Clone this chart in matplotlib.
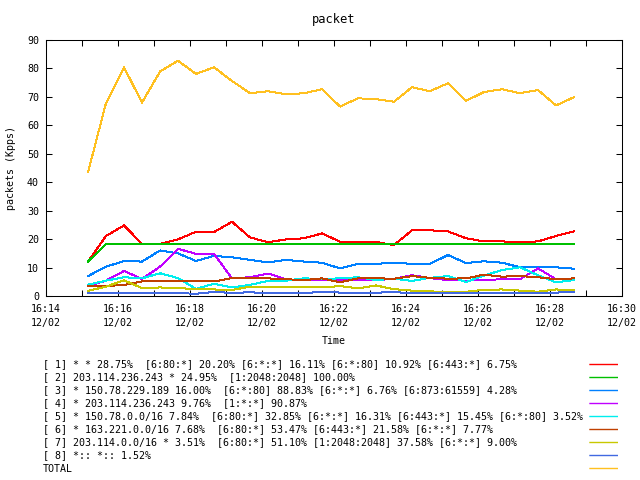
import matplotlib
matplotlib.use('Agg')
import matplotlib.pyplot as plt
import matplotlib.dates as mdates
import pandas as pd

# sample times (12/02, every 30 s)
times = ['16:15:10', '16:15:40', '16:16:10', '16:16:40', '16:17:10', '16:17:40', '16:18:10',
         '16:18:40', '16:19:10', '16:19:40', '16:20:10', '16:20:40', '16:21:10', '16:21:40',
         '16:22:10', '16:22:40', '16:23:10', '16:23:40', '16:24:10', '16:24:40', '16:25:10',
         '16:25:40', '16:26:10', '16:26:40', '16:27:10', '16:27:40', '16:28:10', '16:28:40']

s1 = [12.1, 21.1, 24.8, 18.3, 18.3, 19.9, 22.6, 22.5, 26.1, 20.6, 18.9, 19.9, 20.3, 22.0,
      19.1, 19.1, 19.0, 17.9, 23.1, 23.1, 22.7, 20.3, 19.2, 19.2, 18.9, 19.2, 21.1, 22.7]
s2 = [12.1, 18.2, 18.2, 18.2, 18.2, 18.2, 18.2, 18.2, 18.2, 18.2, 18.2, 18.2, 18.2, 18.2,
      18.2, 18.3, 18.2, 18.2, 18.2, 18.2, 18.2, 18.2, 18.2, 18.2, 18.2, 18.2, 18.2, 18.2]
s3 = [7.0, 10.3, 12.3, 12.1, 16.0, 15.0, 12.3, 14.1, 13.6, 12.7, 11.8, 12.7, 12.1, 11.7,
      9.7, 11.3, 11.3, 11.7, 11.3, 11.3, 14.4, 11.6, 12.2, 11.7, 10.1, 10.1, 10.1, 9.6]
s4 = [3.5, 5.4, 8.8, 6.0, 10.3, 16.6, 14.8, 14.8, 6.2, 6.6, 7.9, 5.9, 5.6, 5.6,
      5.6, 5.6, 5.6, 6.0, 7.3, 6.3, 5.6, 5.4, 5.6, 5.9, 5.9, 9.7, 5.9, 5.8]
s5 = [4.0, 5.4, 6.6, 6.2, 8.0, 6.3, 2.5, 4.3, 3.0, 3.9, 5.3, 5.4, 6.2, 6.0,
      6.2, 6.6, 5.6, 6.1, 5.3, 6.4, 7.0, 4.9, 7.2, 9.1, 10.1, 7.3, 4.8, 5.6]
s6 = [3.4, 3.5, 3.9, 5.1, 5.3, 5.3, 5.3, 5.1, 6.3, 6.5, 6.2, 5.9, 5.6, 6.2,
      4.8, 6.2, 6.2, 6.1, 7.0, 6.4, 6.1, 6.2, 7.5, 6.8, 7.0, 6.6, 5.9, 6.2]
s7 = [1.8, 3.3, 5.5, 2.8, 3.0, 2.8, 2.4, 2.3, 2.1, 3.3, 3.3, 3.3, 3.3, 3.0,
      3.5, 2.7, 3.7, 2.4, 1.9, 1.6, 1.5, 1.5, 2.2, 2.3, 1.9, 1.5, 2.3, 2.1]
s8 = [0.9, 1.1, 1.1, 1.1, 1.2, 1.0, 0.8, 1.4, 1.1, 1.3, 1.0, 1.0, 1.0, 1.5,
      1.2, 1.1, 1.2, 1.3, 1.1, 1.1, 1.1, 1.1, 1.2, 1.0, 0.9, 1.2, 1.2, 1.4]
total = [43.5, 67.8, 80.4, 68.0, 78.9, 82.7, 78.1, 80.4, 75.6, 71.3, 72.0, 70.9, 71.3, 72.7,
         66.6, 69.5, 69.2, 68.3, 73.4, 72.0, 74.8, 68.6, 71.7, 72.7, 71.3, 72.4, 67.0, 69.9]

labels = [
    '[ 1] * * 28.75%  [6:80:*] 20.20% [6:*:*] 16.11% [6:*:80] 10.92% [6:443:*] 6.75%',
    '[ 2] 203.114.236.243 * 24.95%  [1:2048:2048] 100.00%',
    '[ 3] * 150.78.229.189 16.00%  [6:*:80] 88.83% [6:*:*] 6.76% [6:873:61559] 4.28%',
    '[ 4] * 203.114.236.243 9.76%  [1:*:*] 90.87%',
    '[ 5] * 150.78.0.0/16 7.84%  [6:80:*] 32.85% [6:*:*] 16.31% [6:443:*] 15.45% [6:*:80] 3.52%',
    '[ 6] * 163.221.0.0/16 7.68%  [6:80:*] 53.47% [6:443:*] 21.58% [6:*:*] 7.77%',
    '[ 7] 203.114.0.0/16 * 3.51%  [6:80:*] 51.10% [1:2048:2048] 37.58% [6:*:*] 9.00%',
    '[ 8] *:: *:: 1.52%',
    'TOTAL',
]
colors = ['#ff0000', '#00c000', '#0080ff', '#c000ff', '#00eeee',
          '#c04000', '#c8c800', '#4169e1', '#ffc020']

plt.rcParams['font.family'] = ['DejaVu Sans Mono']
plt.rcParams['font.size'] = 7.2

t = pd.to_datetime(['2009-12-02 ' + s for s in times])
series = [s1, s2, s3, s4, s5, s6, s7, s8, total]

fig = plt.figure(figsize=(6.4, 4.8), dpi=100)
ax = fig.add_axes([46 / 640, 1 - 296 / 480, 576 / 640, 256 / 480])

for vals, c in zip(series, colors):
    ax.plot(t, vals, color=c, lw=0.72, antialiased=False)

ax.set_xlim(pd.Timestamp('2009-12-02 16:14'), pd.Timestamp('2009-12-02 16:30'))
ax.set_ylim(0, 90)
ax.set_yticks(range(0, 91, 10))
ax.xaxis.set_major_locator(mdates.MinuteLocator(byminute=range(0, 60, 2)))
ax.xaxis.set_minor_locator(mdates.MinuteLocator(interval=1))
ax.xaxis.set_major_formatter(mdates.DateFormatter('%H:%M\n%m/%d'))
for lab in ax.get_xticklabels():
    lab.set_linespacing(1.45)
ax.tick_params(which='both', direction='in', top=True, right=True, length=4, width=0.75)
ax.tick_params(axis='x', pad=6)
ax.tick_params(axis='y', pad=5)
for sp in ax.spines.values():
    sp.set_linewidth(0.75)

ax.set_title('packet', y=1 + 21 / 256, va='center', pad=0)
ax.set_ylabel('packets (Kpps)', va='center')
ax.yaxis.set_label_coords(-35 / 576, 0.5)
ax.set_xlabel('Time', va='center')
ax.xaxis.set_label_coords(0.5, -45 / 256)

# key block below the plot: text on the left, line samples on the right
kax = fig.add_axes([43 / 640, 1 - 475 / 480, 575 / 640, 117 / 480])
kax.set_xlim(0, 1)
kax.set_ylim(len(labels) - 0.5, -0.5)
kax.axis('off')
for i, (lab, c) in enumerate(zip(labels, colors)):
    kax.text(0, i, lab, ha='left', va='center')
    kax.plot([547 / 575, 1], [i, i], color=c, lw=1.0, snap=False)

fig.savefig('out.png', dpi=100)
